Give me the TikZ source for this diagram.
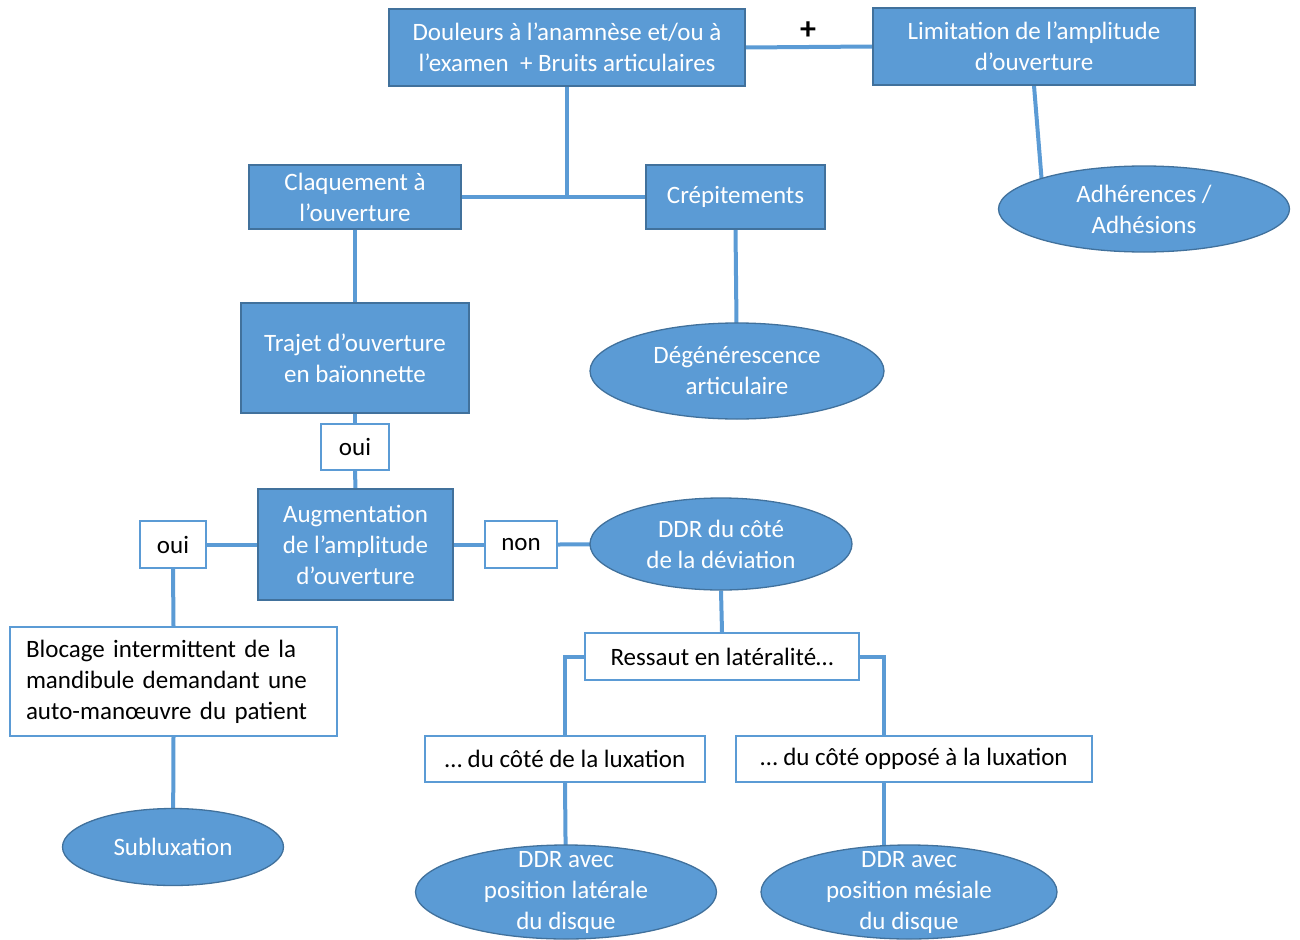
\documentclass[tikz,border=0pt]{standalone}
\usepackage{fontspec}
\setmainfont{Carlito}
\usepackage{xcolor}
\usetikzlibrary{shapes.geometric}
\definecolor{boxblue}{HTML}{5B9BD5}
\definecolor{edgeblue}{HTML}{41719C}
\pgfdeclarelayer{background}
\pgfsetlayers{background,main}
\begin{document}
\begin{tikzpicture}[x=1pt,y=-1pt,
  every node/.style={font=\fontsize{25}{31}\selectfont,inner sep=0pt},
  bluebox/.style={rectangle,draw=edgeblue,line width=1.3pt,fill=boxblue,text=white,align=center},
  blueell/.style={ellipse,draw=edgeblue,line width=1.3pt,fill=boxblue,text=white,align=center},
  whitebox/.style={rectangle,draw=boxblue,line width=2pt,fill=white,text=black,align=center},
  link/.style={draw=boxblue,line width=4pt}]
\useasboundingbox (0,0) rectangle (1300,939);
\node (1) at (567,47.5) [bluebox,minimum width=356,minimum height=77] {Douleurs à l’anamnèse et/ou à\\l’examen~~+ Bruits articulaires};
\node (2) at (1034,46.5) [bluebox,minimum width=322,minimum height=77] {Limitation de l’amplitude\\d’ouverture};
\node (3) at (808,31) [font=\fontsize{32}{32}\selectfont\bfseries] {+};
\node (4) at (355,197) [bluebox,minimum width=212,minimum height=64] {Claquement à\\l’ouverture};
\node (5) at (735.5,197) [bluebox,minimum width=179,minimum height=64] {Crépitements};
\node (6) at (1144,209) [blueell,minimum width=291,minimum height=86] {Adhérences /\\Adhésions};
\node (7) at (737,371) [blueell,minimum width=294,minimum height=96] {Dégénérescence\\articulaire};
\node (8) at (355,358) [bluebox,minimum width=228,minimum height=110] {Trajet d’ouverture\\en baïonnette};
\node (9) at (355,447) [whitebox,minimum width=68,minimum height=46] {oui};
\node (10) at (355.5,544.5) [bluebox,minimum width=195,minimum height=111] {Augmentation\\de l’amplitude\\d’ouverture};
\node (11) at (173,544.5) [whitebox,minimum width=66,minimum height=47] {oui};
\node (12) at (521,544.5) [whitebox,minimum width=72,minimum height=47] {non};
\node (13) at (721,544) [blueell,minimum width=262,minimum height=92] {DDR du côté\\de la déviation};
\node (14) at (173.5,681.5) [whitebox,align=left,text width=295pt,inner xsep=16pt,minimum height=109] {Blocage intermittent de la\\mandibule demandant une\\auto-manœuvre du patient};
\node (15) at (173,847) [blueell,minimum width=221,minimum height=77] {Subluxation};
\node (16) at (722,656.5) [whitebox,minimum width=274,minimum height=47] {Ressaut en latéralité…};
\node (17) at (565,759) [whitebox,minimum width=280,minimum height=46] {… du côté de la luxation};
\node (18) at (914,759) [whitebox,minimum width=356,minimum height=46] {… du côté opposé à la luxation};
\node (19) at (566,892) [blueell,minimum width=301,minimum height=94,
  label={[text=white,align=center]center:DDR avec\\position latérale\\du disque}] {};
\node (20) at (909,892) [blueell,minimum width=296,minimum height=94,
  label={[text=white,align=center]center:DDR avec\\position mésiale\\du disque}] {};
\begin{pgfonlayer}{background}
\draw[link] (1.east) -- (2.west);
\draw[link] (1.south) -- (1.south |- 4.east);
\draw[link] (4.east) -- (5.west);
\draw[link] (2.south) -- ([xshift=-100pt]6.center);
\draw[link] (5.south) -- (7.center);
\draw[link] (4.south) -- (8.north);
\draw[link] (8.south) -- (9.north);
\draw[link] (9.south) -- (10.north);
\draw[link] (10.west) -- (11.east);
\draw[link] (11.south) -- (14.north);
\draw[link] (14.south) -- (15.center);
\draw[link] (10.east) -- (12.west);
\draw[link] (12.east) -- (13.center);
\draw[link] (13.south) -- (16.north);
\draw[link] (16.west) -| (17.north);
\draw[link] (16.east) -| ([xshift=-30pt]18.north);
\draw[link] (17.south) -- (19.center);
\draw[link] ([xshift=-30pt]18.south) -- ([xshift=-25pt]20.center);
\end{pgfonlayer}
\end{tikzpicture}
\end{document}
